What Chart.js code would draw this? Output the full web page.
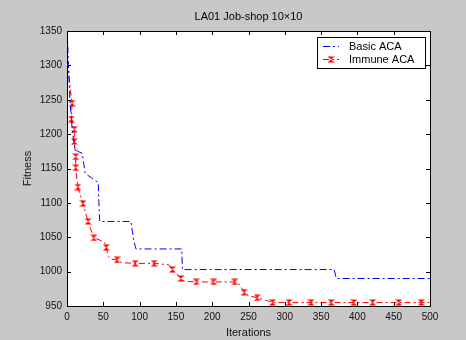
<!DOCTYPE html>
<html>
<head>
<meta charset="utf-8">
<script src="https://cdn.jsdelivr.net/npm/chart.js@4/dist/chart.umd.min.js"></script>
<style>
  html, body { margin: 0; padding: 0; background: #c8c8c8; }
  #cv { display: block; }
</style>
</head>
<body>
<canvas id="cv" width="466" height="340"></canvas>
<script>
'use strict';

const chartTitle = 'LA01 Job-shop 10\u00d710';
const xLabel = 'Iterations';
const yLabel = 'Fitness';
const xTicks = [0, 50, 100, 150, 200, 250, 300, 350, 400, 450, 500];
const yTicks = [950, 1000, 1050, 1100, 1150, 1200, 1250, 1300, 1350];

// Basic ACA
const basicIter = [0, 1, 2, 3, 4, 6, 7, 9, 11, 15, 21, 24, 25, 38, 43, 44, 45, 88, 92, 95, 158, 159, 368, 371, 500];
const basicFitness = [1350, 1330, 1300, 1275, 1250, 1225, 1208, 1192, 1178, 1175, 1172, 1150, 1143, 1133, 1130, 1100, 1073, 1073, 1045, 1033, 1033, 1003, 1003, 990, 990];

// Immune ACA (1 = marker drawn at this point)
const immuneIter = [0, 2, 3, 5, 7, 6, 10, 10, 12, 12, 15, 22, 29, 37, 45, 52, 54, 57, 62, 69, 75, 94, 120, 140, 145, 150, 157, 162, 178, 202, 231, 237, 244, 250, 262, 275, 283, 306, 336, 364, 395, 421, 457, 488, 500];
const immuneFitness = [1305, 1298, 1282, 1262, 1245, 1222, 1207, 1189, 1167, 1151, 1123, 1099, 1073, 1049, 1046, 1042, 1035, 1022, 1018, 1017, 1013, 1012, 1012, 1010, 1003, 998, 990, 986, 985, 985, 985, 982, 970, 965, 962, 958, 955, 955, 955, 955, 955, 955, 955, 955, 955];
const immuneMarked = [0, 0, 0, 0, 1, 1, 1, 1, 1, 1, 1, 1, 1, 1, 0, 0, 1, 0, 0, 1, 0, 1, 1, 0, 1, 0, 1, 0, 1, 1, 1, 0, 1, 0, 1, 0, 1, 1, 1, 1, 1, 1, 1, 1, 0];

const FONT = 'Liberation Sans, Arial, sans-serif';

function hourglass(color) {
  let c = document.createElement('canvas');
  c.width = 7;
  c.height = 7;
  let g = c.getContext('2d');
  g.fillStyle = color;
  g.beginPath(); g.moveTo(0, 0.5); g.lineTo(7, 0.5); g.lineTo(3.5, 3.5); g.closePath(); g.fill();
  g.beginPath(); g.moveTo(0, 6.5); g.lineTo(7, 6.5); g.lineTo(3.5, 3.5); g.closePath(); g.fill();
  return c;
}
const redMarker = hourglass('#ff0000');

function pairs(xs, ys) {
  return xs.map((x, i) => ({ x: x, y: ys[i] }));
}

// white axes box, inner ticks, title and legend, drawn matlab-style
const matlabAxes = {
  id: 'matlabAxes',
  beforeDatasetsDraw(chart) {
    let { ctx, chartArea: a } = chart;
    ctx.save();
    ctx.fillStyle = '#ffffff';
    ctx.fillRect(a.left, a.top, a.right - a.left, a.bottom - a.top);
    ctx.restore();
  },
  afterDraw(chart) {
    let { ctx, chartArea: a } = chart;
    let xs = chart.scales.x, ys = chart.scales.y;
    ctx.save();
    ctx.strokeStyle = '#000000';
    ctx.lineWidth = 1;
    ctx.strokeRect(Math.round(a.left) + 0.5, Math.round(a.top) + 0.5, Math.round(a.right - a.left), Math.round(a.bottom - a.top));
    ctx.beginPath();
    xTicks.forEach(t => {
      let px = Math.round(xs.getPixelForValue(t)) + 0.5;
      ctx.moveTo(px, a.bottom); ctx.lineTo(px, a.bottom - 4);
      ctx.moveTo(px, a.top); ctx.lineTo(px, a.top + 4);
    });
    yTicks.forEach(t => {
      let py = Math.round(ys.getPixelForValue(t)) + 0.5;
      ctx.moveTo(a.left, py); ctx.lineTo(a.left + 4, py);
      ctx.moveTo(a.right, py); ctx.lineTo(a.right - 4, py);
    });
    ctx.stroke();

    // title
    ctx.fillStyle = '#000000';
    ctx.font = '11px ' + FONT;
    ctx.textAlign = 'center';
    ctx.textBaseline = 'middle';
    ctx.fillText(chartTitle, (a.left + a.right) / 2, 17);

    // legend
    let lx = 317, ly = 37, lw = 108, lh = 31;
    ctx.fillStyle = '#ffffff';
    ctx.fillRect(lx, ly, lw, lh);
    ctx.strokeRect(lx + 0.5, ly + 0.5, lw, lh);
    chart.data.datasets.forEach((ds, i) => {
      let y = ly + 9.5 + i * 13;
      ctx.strokeStyle = ds.borderColor;
      ctx.setLineDash(ds.borderDash);
      ctx.beginPath();
      ctx.moveTo(lx + 6, y); ctx.lineTo(lx + 22, y);
      ctx.stroke();
      ctx.setLineDash([]);
      if (ds.legendMarker) {
        ctx.drawImage(redMarker, lx + 14 - 3.5, y - 3.5);
      }
      ctx.fillStyle = '#000000';
      ctx.textAlign = 'left';
      ctx.fillText(ds.label, lx + 32, y);
    });
    ctx.restore();
  }
};

let chartObject = {
  type: 'scatter',
  data: {
    datasets: [{
      label: 'Basic ACA',
      data: pairs(basicIter, basicFitness),
      showLine: true,
      borderColor: '#0000ff',
      borderWidth: 1,
      borderDash: [7, 3, 2, 3],
      pointRadius: 0,
      fill: false
    }, {
      label: 'Immune ACA',
      data: pairs(immuneIter, immuneFitness),
      showLine: true,
      borderColor: '#ff0000',
      borderWidth: 1,
      borderDash: [6, 3, 2, 3],
      pointRadius: immuneMarked.map(m => m ? 3 : 0),
      pointStyle: redMarker,
      legendMarker: true,
      fill: false
    }]
  },
  options: {
    responsive: false,
    animation: false,
    devicePixelRatio: 1,
    layout: { padding: { top: 31, right: 36, left: 0, bottom: 0 } },
    plugins: {
      legend: { display: false },
      tooltip: { enabled: false }
    },
    scales: {
      x: {
        type: 'linear',
        min: 0,
        max: 500,
        afterFit: s => { s.height = 34; },
        afterBuildTicks: s => { s.ticks = xTicks.map(v => ({ value: v })); },
        grid: { display: false, drawTicks: false },
        border: { display: false },
        ticks: { color: '#111', font: { family: FONT, size: 10 }, padding: 5, maxRotation: 0, callback: v => String(v) },
        title: { display: true, text: xLabel, color: '#111', font: { family: FONT, size: 11 }, padding: { top: 0, bottom: 0 } }
      },
      y: {
        type: 'linear',
        min: 950,
        max: 1350,
        afterFit: s => { s.width = 67; },
        afterBuildTicks: s => { s.ticks = yTicks.map(v => ({ value: v })); },
        grid: { display: false, drawTicks: false },
        border: { display: false },
        ticks: { color: '#111', font: { family: FONT, size: 10 }, padding: 5, callback: v => String(v) },
        title: { display: true, text: yLabel, color: '#111', font: { family: FONT, size: 11 }, padding: { top: 21, bottom: 0 } }
      }
    }
  },
  plugins: [matlabAxes]
};

let ctx = document.getElementById('cv').getContext('2d');
let myChart = new Chart(ctx, chartObject);
</script>
</body>
</html>
